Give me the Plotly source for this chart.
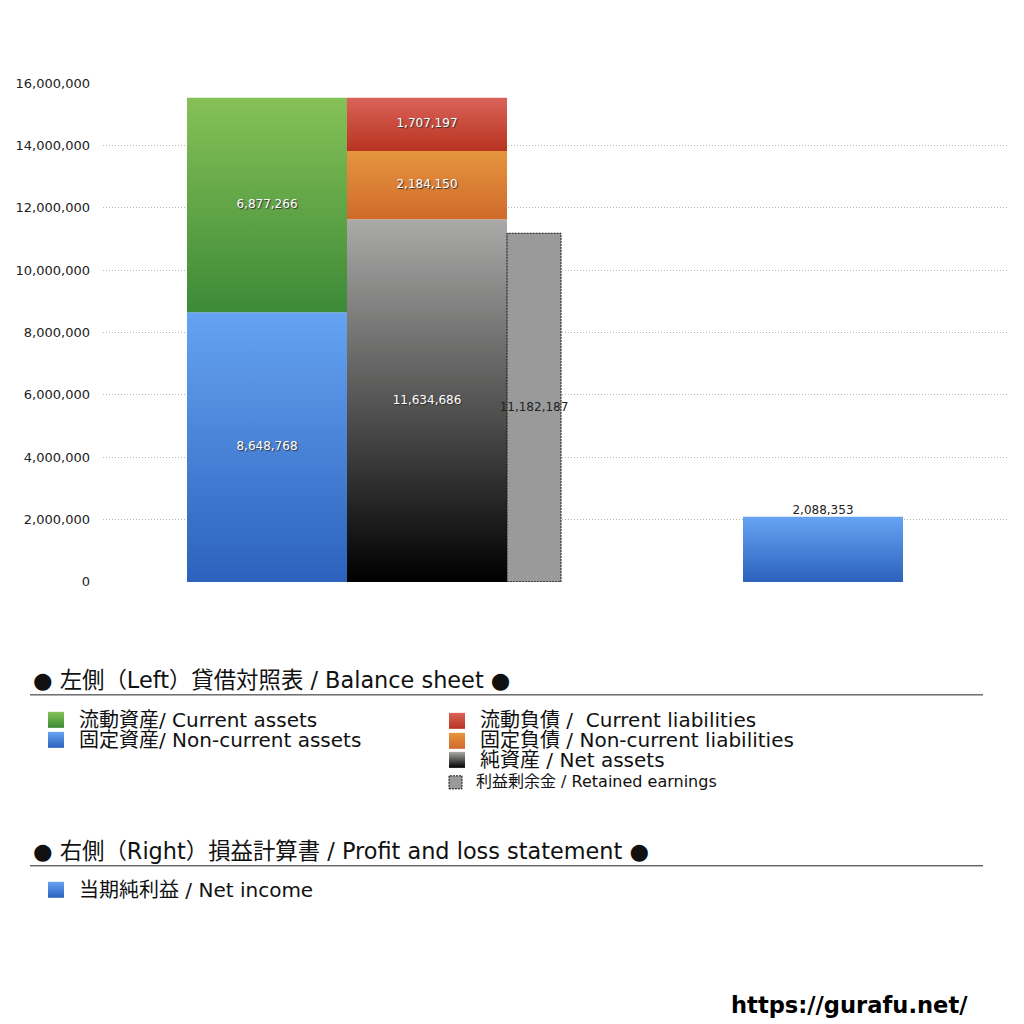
import plotly.graph_objects as go

# balance sheet (left) and profit and loss (right), yen
asset_labels = ["固定資産/ Non-current assets", "流動資産/ Current assets"]
asset_values = [8648768, 6877266]
liab_labels = ["純資産 / Net assets", "固定負債 / Non-current liabilities", "流動負債 /\u00a0 Current liabilities"]
liab_values = [11634686, 2184150, 1707197]
retained_label = "利益剰余金 / Retained earnings"
retained_value = 11182187
pl_labels = ["当期純利益 / Net income"]
pl_values = [2088353]

y_ticks = [0, 2000000, 4000000, 6000000, 8000000, 10000000, 12000000, 14000000, 16000000]

# gradients (bottom, top)
asset_colors = [("#2c62bd", "#66a3f2"), ("#3d8a37", "#86c157")]
liab_colors = [("#000000", "#aaaba9"), ("#d06a2b", "#e6953f"), ("#b83320", "#da6359")]
pl_colors = [("#2c62bd", "#66a3f2")]

FONT = "DejaVu Sans, Noto Sans CJK JP"
# positions below are screen pixels of the final picture.
# page has an 8px body margin; vertically the shot comes out a bit
# squashed, so A and C undo that (y_shot = A * y_fig + C)
OFF = 8
W = 1008
H = 1024
A = 0.9857
C = 13.9


def px(x):
    return (x - OFF) / W


def py(y):
    return 1 - ((y - C) / A) / H


fig = go.Figure()


def add_stack(x0, x1, values, colors):
    base = 0
    for v, (c0, c1) in zip(values, colors):
        fig.add_trace(go.Scatter(
            x=[x0, x1, x1, x0, x0], y=[base, base, base + v, base + v, base],
            mode="lines", fill="toself", line=dict(width=0),
            fillgradient=dict(type="vertical", colorscale=[[0, c0], [1, c1]]),
            hoverinfo="skip", showlegend=False))
        fig.add_trace(go.Scatter(
            x=[(x0 + x1) / 2], y=[base + v / 2], mode="text", text=[f"{v:,}"],
            textfont=dict(family=FONT, size=12, color="white", shadow="1px 1px 1px #333"),
            hoverinfo="skip", showlegend=False))
        base += v


add_stack(187, 347, asset_values, asset_colors)
add_stack(347, 507, liab_values, liab_colors)

# retained earnings, dotted outline
fig.add_trace(go.Scatter(
    x=[507, 561, 561, 507, 507], y=[0, 0, retained_value, retained_value, 0],
    mode="lines", fill="toself", fillcolor="#9a9a9a",
    line=dict(color="#111", width=1, dash="2px,1px"), hoverinfo="skip", showlegend=False))
fig.add_trace(go.Scatter(
    x=[534], y=[retained_value / 2], mode="text", text=[f"{retained_value:,}"],
    textfont=dict(family=FONT, size=12, color="#222"), hoverinfo="skip", showlegend=False))

# net income
for v, (c0, c1) in zip(pl_values, pl_colors):
    fig.add_trace(go.Scatter(
        x=[743, 903, 903, 743, 743], y=[0, 0, v, v, 0],
        mode="lines", fill="toself", line=dict(width=0),
        fillgradient=dict(type="vertical", colorscale=[[0, c0], [1, c1]]),
        hoverinfo="skip", showlegend=False))
    fig.add_trace(go.Scatter(
        x=[823], y=[v], mode="text", text=[f"{v:,}"], textposition="top center",
        textfont=dict(family=FONT, size=12, color="#222"), hoverinfo="skip", showlegend=False))

# legend squares on a pixel overlay
sq_x = [56, 56, 457, 457, 457, 56]
sq_y = [719, 739, 720, 740, 759, 889]
sq_cols = [asset_colors[1], asset_colors[0], liab_colors[2], liab_colors[1], liab_colors[0], pl_colors[0]]
fig.add_trace(go.Scatter(
    x=sq_x, y=sq_y, mode="markers", xaxis="x2", yaxis="y2",
    marker=dict(symbol="square", size=16, color=[c[1] for c in sq_cols], line=dict(width=0),
                gradient=dict(type="vertical", color=[c[0] for c in sq_cols])),
    hoverinfo="skip", showlegend=False))

annotations = []


def label(x, y, text, size, **kw):
    annotations.append(dict(x=px(x), y=py(y), xref="paper", yref="paper", text=text,
                            showarrow=False, xanchor="left", yanchor="middle",
                            font=dict(family=FONT, size=size, color="#111"), **kw))


label(31, 679, "● 左側（Left）貸借対照表 / Balance sheet ●", 22.4)
label(77, 719, asset_labels[1], 20)
label(77, 739, asset_labels[0], 20)
label(478, 719, liab_labels[2], 20)
label(478, 739, liab_labels[1], 20)
label(478, 759, liab_labels[0], 20)
label(474, 781, retained_label, 16)
label(31, 850, "● 右側（Right）損益計算書 / Profit and loss statement ●", 22.4)
label(77, 889, pl_labels[0], 20)
annotations.append(dict(x=px(970), y=py(1004), xref="paper", yref="paper",
                        text="<b>https://gurafu.net/</b>", showarrow=False,
                        xanchor="right", yanchor="middle",
                        font=dict(family="DejaVu Sans", size=22.6, color="#000")))

shapes = [
    dict(type="line", xref="paper", yref="paper", x0=px(30), x1=px(983), y0=py(694), y1=py(694),
         line=dict(color="#222", width=1)),
    dict(type="line", xref="paper", yref="paper", x0=px(30), x1=px(983), y0=py(865), y1=py(865),
         line=dict(color="#222", width=1)),
    dict(type="rect", xref="paper", yref="paper", x0=px(449), x1=px(462), y0=py(788), y1=py(775),
         fillcolor="#9a9a9a", line=dict(color="#111", width=1, dash="2px,1px")),
]

fig.update_layout(
    width=W, height=H,
    margin=dict(l=0, r=0, t=0, b=0),
    paper_bgcolor="white", plot_bgcolor="rgba(0,0,0,0)",
    showlegend=False,
    annotations=annotations, shapes=shapes,
    xaxis=dict(domain=[px(103), px(1007)], range=[103, 1007], visible=False, fixedrange=True),
    yaxis=dict(domain=[py(581), py(82)], range=[0, 16000000], tickvals=y_ticks, tickformat=",",
               showgrid=True, gridcolor="#b8b8b8", griddash="1px,2px", gridwidth=1,
               zeroline=False, showline=False, ticks="", ticklabelstandoff=12,
               tickfont=dict(family=FONT, size=13, color="#222")),
    xaxis2=dict(domain=[0, 1], range=[OFF, OFF + W], visible=False, anchor="y2"),
    yaxis2=dict(domain=[0, 1], range=[A * H + C, C], visible=False, anchor="x2"),
)

fig.write_html("out.html")
